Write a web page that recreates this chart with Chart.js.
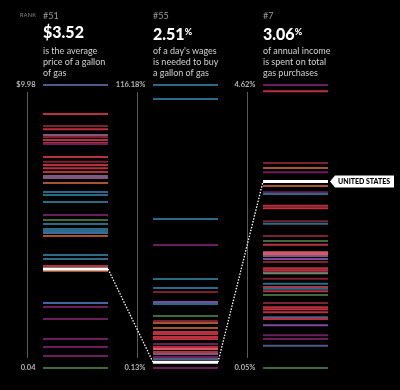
<!DOCTYPE html>
<html>
<head>
<meta charset="utf-8">
<script src="https://cdn.jsdelivr.net/npm/chart.js@4.4.0/dist/chart.umd.min.js"></script>
<style>
  body { margin: 0; background: #000; }
  #wrap { position: relative; width: 400px; height: 390px; font-family: Lato, "Open Sans", sans-serif; color: #fff; overflow: hidden; }
  canvas { position: absolute; left: 0; top: 0; }
  .hd { position: absolute; white-space: nowrap; }
  .rank { font-size: 9px; line-height: 9px; color: #9a9a9a; top: 10.5px; }
  .big { font-size: 16px; line-height: 16px; font-weight: 900; top: 24px; }
  .big span { font-size: 9px; vertical-align: 5px; font-weight: 900; }
  .desc { font-size: 9px; line-height: 11px; color: #d0d0d0; top: 44.5px; }
  .ranktag { font-size: 5.5px; line-height: 6px; color: #8a8a8a; top: 12px; left: 20px; letter-spacing: 0.3px; }
</style>
</head>
<body>
<div id="wrap">
  <canvas id="gasChart" width="400" height="390"></canvas>
</div>
<script>
// Datos - precio, salario diario, ingreso anual
const categorias = ['price', 'wages', 'income'];
const ranks = ['#51', '#55', '#7'];
const usValues = [3.52, 2.51, 3.06];
const prefijos = ['$', '', ''];
const sufijos = ['', '%', '%'];
const descripciones = [
  ['is the average', 'price of a gallon', 'of gas'],
  ["of a day's wages", 'is needed to buy', 'a gallon of gas'],
  ['of annual income', 'is spent on total', 'gas purchases']
];
const maxLabels = ['$9.98', '116.18%', '4.62%'];
const minLabels = ['0.04', '0.13%', '0.05%'];
const mins = [0.04, 0.13, 0.05];
const maxs = [9.98, 116.18, 4.62];

const price = [9.98, 8.96, 8.54, 8.43, 8.22, 8.15, 8.05, 7.94, 7.91, 7.45,
  7.28, 7.17, 7.06, 6.92, 6.78, 6.71, 6.54, 6.22, 6.12, 5.87,
  5.41, 5.24, 5.10, 4.92, 4.85, 4.78, 4.68, 4.01, 3.87, 3.62,
  3.45, 2.32, 2.18, 1.76, 1.06, 0.78, 0.46, 0.04];
const priceTone = ['s','r','d','r','m','d','r','r','p','r',
  'd','r','r','r','m','m','o','t','t','t',
  'p','g','t','t','t','b','o','t','t','r',
  'o','b','p','p','p','p','p','g'];

const wages = [116.18, 110.44, 61.23, 50.57, 36.63, 32.94, 31.30, 27.19, 26.37, 21.45,
  19.40, 18.58, 16.53, 14.89, 14.07, 12.84, 12.02, 9.97, 8.74, 7.92,
  6.69, 5.87, 4.64, 3.82, 0.13];
const wagesTone = ['t','t','t','p','t','t','d','v','t','g',
  'd','o','o','r','r','r','r','p','r','k',
  'r','m','p','s','p'];

const income = [4.62, 4.52, 3.36, 3.28, 3.21, 2.99, 2.89, 2.86, 2.67, 2.63,
  2.42, 2.38, 2.18, 2.10, 2.04, 1.92, 1.89, 1.86, 1.81, 1.76,
  1.66, 1.63, 1.60, 1.58, 1.49, 1.41, 1.36, 1.33, 1.29, 1.23,
  1.10, 1.03, 1.00, 0.95, 0.87, 0.84, 0.74, 0.58, 0.52, 0.41, 0.05];
const incomeTone = ['p','r','d','o','p','o','p','t','r','r',
  'd','t','d','g','r','k','k','m','v','d',
  'r','r','d','x','d','t','r','t','r','g',
  'd','r','r','r','s','r','v','p','p','s','g'];

// Paleta
const paleta = {
  r: '#b8303f', d: '#7a2232', k: '#d45a6a', p: '#6c1d5c', v: '#7b4b9b', m: '#80587e',
  t: '#2b6a86', b: '#3c68a0', g: '#3f6a3b', o: '#a4552f', s: '#4e5c88', x: '#6a8a72'
};

// Encabezados HTML
const wrap = document.getElementById('wrap');
const lefts = [43, 153, 263];
function addDiv(cls, html, left) {
  const d = document.createElement('div');
  d.className = 'hd ' + cls;
  d.innerHTML = html;
  if (left !== undefined) d.style.left = left + 'px';
  wrap.appendChild(d);
}
addDiv('ranktag', 'RANK');
categorias.forEach((c, i) => {
  addDiv('rank', ranks[i], lefts[i]);
  const num = prefijos[i] + usValues[i].toFixed(2);
  addDiv('big', num + (sufijos[i] ? '<span>' + sufijos[i] + '</span>' : ''), lefts[i]);
  addDiv('desc', descripciones[i].join('<br>'), lefts[i]);
});

// Datasets
const series = [price, wages, income];
const tones = [priceTone, wagesTone, incomeTone];
const datasets = series.map((vals, i) => {
  const data = vals.map(v => ({x: categorias[i], y: v}));
  data.push({x: categorias[i], y: usValues[i]});
  const colors = tones[i].map(t => paleta[t]);
  colors.push('#ffffff');
  const widths = vals.map(() => 2);
  widths.push(3);
  return {
    label: categorias[i],
    data: data,
    yAxisID: 'y' + (i + 1),
    showLine: false,
    pointStyle: 'line',
    pointRadius: 32.5,
    pointBorderColor: colors,
    pointBackgroundColor: colors,
    pointBorderWidth: widths,
    clip: false
  };
});

// Plugin para ejes, etiquetas y conector
const HALF = 32.5;
const overlay = {
  id: 'overlay',
  beforeDatasetsDraw(chart) {
    const ctx = chart.ctx, area = chart.chartArea, xs = chart.scales.x;
    ctx.save();
    categorias.forEach((c, i) => {
      const cx = xs.getPixelForValue(i);
      const ax = Math.round(cx - 48.5) + 0.5;
      ctx.strokeStyle = '#5a5a5a';
      ctx.lineWidth = 1;
      ctx.beginPath();
      ctx.moveTo(ax, area.top + 7);
      ctx.lineTo(ax, area.bottom - 10);
      ctx.stroke();
      ctx.fillStyle = '#b4b4b4';
      ctx.font = 'bold 7.5px Lato, "Open Sans", sans-serif';
      ctx.textAlign = 'right';
      ctx.textBaseline = 'middle';
      const ys = chart.scales['y' + (i + 1)];
      ctx.fillText(maxLabels[i], ax + 8, ys.getPixelForValue(maxs[i]));
      ctx.fillText(minLabels[i], ax + 8, ys.getPixelForValue(mins[i]));
    });
    ctx.restore();
  },
  afterDatasetsDraw(chart) {
    const ctx = chart.ctx, xs = chart.scales.x;
    ctx.save();
    ctx.strokeStyle = '#ffffff';
    ctx.lineWidth = 1.3;
    ctx.setLineDash([1.5, 1.5]);
    for (let i = 0; i < 2; i++) {
      const x1 = xs.getPixelForValue(i) + HALF;
      const y1 = chart.scales['y' + (i + 1)].getPixelForValue(usValues[i]);
      const x2 = xs.getPixelForValue(i + 1) - HALF;
      const y2 = chart.scales['y' + (i + 2)].getPixelForValue(usValues[i + 1]);
      ctx.beginPath();
      ctx.moveTo(x1, y1);
      ctx.lineTo(x2, y2);
      ctx.stroke();
    }
    ctx.setLineDash([]);
    // Etiqueta UNITED STATES
    const lx = xs.getPixelForValue(2) + HALF + 2;
    const ly = chart.scales.y3.getPixelForValue(usValues[2]);
    ctx.fillStyle = '#ffffff';
    ctx.beginPath();
    ctx.moveTo(lx, ly);
    ctx.lineTo(lx + 5, ly - 6);
    ctx.lineTo(lx + 64, ly - 6);
    ctx.lineTo(lx + 64, ly + 6);
    ctx.lineTo(lx + 5, ly + 6);
    ctx.closePath();
    ctx.fill();
    ctx.fillStyle = '#000';
    ctx.font = '900 7px Lato, "Open Sans", sans-serif';
    ctx.textAlign = 'left';
    ctx.textBaseline = 'middle';
    ctx.fillText('UNITED STATES', lx + 8, ly + 0.5);
    ctx.restore();
  }
};

const ctx = document.getElementById('gasChart');
const myChart = new Chart(ctx, {
  type: 'line',
  data: { labels: categorias, datasets: datasets },
  options: {
    responsive: false,
    animation: false,
    events: [],
    devicePixelRatio: 1,
    layout: { autoPadding: false, padding: { top: 85, bottom: 22, left: 20.5, right: 49.5 } },
    plugins: { legend: { display: false }, tooltip: { enabled: false } },
    scales: {
      x: { type: 'category', offset: true, display: false },
      y1: { type: 'linear', min: mins[0], max: maxs[0], display: false },
      y2: { type: 'linear', min: mins[1], max: maxs[1], display: false },
      y3: { type: 'linear', min: mins[2], max: maxs[2], display: false }
    }
  },
  plugins: [overlay]
});
</script>
</body>
</html>
